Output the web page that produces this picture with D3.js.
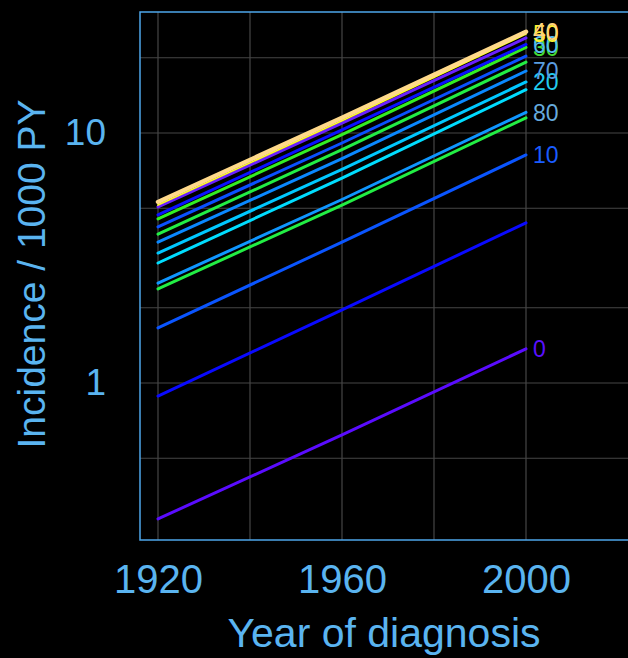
<!DOCTYPE html>
<html>
<head>
<meta charset="utf-8">
<script src="https://cdn.jsdelivr.net/npm/d3@7/dist/d3.min.js"></script>
<style>
  html, body { margin: 0; padding: 0; background: #000; }
  svg { display: block; }
  text { font-family: "Liberation Sans", Arial, sans-serif; }
</style>
</head>
<body>
<div id="chart"></div>
<script>
// Incidence per 1000 person-years by year of diagnosis, one line per age group
const years = [1920, 1960, 2000];

const seriesNames = ["0", "5", "10", "85", "80", "15", "20", "70", "75", "65", "30", "60", "45", "50", "40"];
const seriesLabels = ["0", "", "10", "", "80", "", "20", "70", "", "", "30", "60", "", "50", "40"];
const seriesValues = [
  [0.286, 0.620, 1.37],
  [0.887, 1.96, 4.37],
  [1.66, 3.66, 8.17],
  [2.38, 5.15, 11.5],
  [2.51, 5.42, 12.1],
  [3.02, 6.60, 14.9],
  [3.31, 7.15, 16.0],
  [3.66, 7.90, 17.7],
  [3.94, 8.58, 19.2],
  [4.21, 9.12, 20.3],
  [4.53, 9.85, 22.0],
  [4.70, 10.3, 22.6],
  [5.06, 10.95, 24.0],
  [5.15, 11.2, 24.9],
  [5.30, 11.5, 25.4]
];
const lineColors = ["#5a0cff", "#0a0aff", "#0a55ff", "#22ee44", "#0f96ff", "#00ddff",
                    "#00c8ff", "#0a88ff", "#22ee44", "#0a50ff", "#33ee22", "#0a10ff",
                    "#6a20ff", "#ffff22", "#ffd98a"];
const labelColors = ["#5a10ff", "#1a5cff", "#1a5cff", "#66aadd", "#66aadd", "#22ccee",
                     "#22ccee", "#5a9de0", "#5a9de0", "#55bbee", "#44dd33", "#55bbee",
                     "#ffee33", "#ffee33", "#ffd27f"];

const xTicks = [1920, 1960, 2000];
const xGrid = [1920, 1940, 1960, 1980, 2000];
const yTicks = [1, 10];
const yGrid = [0.5, 1, 2, 5, 10, 20];

const W = 628, H = 658;
const frame = { left: 140, top: 12, right: 660, bottom: 540 };
const axisColor = "#4ea6ea";
const textColor = "#5ab4f0";

const svg = d3.select("#chart").append("svg")
  .attr("width", W).attr("height", H);

svg.append("rect").attr("width", W).attr("height", H).attr("fill", "#000");

const x = d3.scaleLinear().domain([1920, 2000]).range([158, 526]);
const y = d3.scaleLog().domain([1, 10]).range([383, 133]);

// grid lines
const grid = svg.append("g");
grid.selectAll("line.vx").data(xGrid).join("line")
  .attr("x1", d => x(d)).attr("x2", d => x(d))
  .attr("y1", frame.top).attr("y2", frame.bottom)
  .attr("stroke", "#464646").attr("stroke-width", 1.2);
grid.selectAll("line.hy").data(yGrid).join("line")
  .attr("y1", d => y(d)).attr("y2", d => y(d))
  .attr("x1", frame.left).attr("x2", frame.right)
  .attr("stroke", "#464646").attr("stroke-width", 1.2);

// frame
svg.append("rect")
  .attr("x", frame.left).attr("y", frame.top)
  .attr("width", frame.right - frame.left).attr("height", frame.bottom - frame.top)
  .attr("fill", "none").attr("stroke", axisColor).attr("stroke-width", 1.5);

// axes (labels only)
const xAxis = svg.append("g")
  .attr("transform", `translate(0,${frame.bottom})`)
  .call(d3.axisBottom(x).tickValues(xTicks).tickSize(0).tickPadding(25).tickFormat(d3.format("d")));
xAxis.select(".domain").remove();
xAxis.selectAll("text").attr("fill", textColor).attr("font-size", 40)
  .attr("font-family", "'Liberation Sans', Arial, sans-serif");

const yAxis = svg.append("g")
  .attr("transform", `translate(${frame.left},0)`)
  .call(d3.axisLeft(y).tickValues(yTicks).tickSize(0).tickPadding(34).tickFormat(d3.format("d")));
yAxis.select(".domain").remove();
yAxis.selectAll("text").attr("fill", textColor).attr("font-size", 37)
  .attr("font-family", "'Liberation Sans', Arial, sans-serif");

// axis titles
svg.append("text")
  .attr("x", 384).attr("y", 647)
  .attr("text-anchor", "middle")
  .attr("fill", textColor).attr("font-size", 41)
  .text("Year of diagnosis");

svg.append("text")
  .attr("transform", "translate(45,274) rotate(-90)")
  .attr("text-anchor", "middle")
  .attr("fill", textColor).attr("font-size", 39)
  .text("Incidence / 1000 PY");

// series lines
const series = seriesNames.map((name, i) => ({
  name,
  label: seriesLabels[i],
  lineColor: lineColors[i],
  labelColor: labelColors[i],
  points: years.map((yr, j) => ({ year: yr, value: seriesValues[i][j] }))
}));

const line = d3.line().x(d => x(d.year)).y(d => y(d.value));

svg.append("g").selectAll("path").data(series).join("path")
  .attr("d", d => line(d.points))
  .attr("fill", "none")
  .attr("stroke", d => d.lineColor)
  .attr("stroke-width", d => d.name === "40" ? 4.5 : (d.name === "50" ? 1.8 : 3))
  .attr("stroke-linecap", "round");

// end labels
svg.append("g").selectAll("text").data(series.filter(d => d.label)).join("text")
  .attr("x", d => x(d.points[d.points.length - 1].year) + 7)
  .attr("y", d => y(d.points[d.points.length - 1].value))
  .attr("dy", "0.36em")
  .attr("fill", d => d.labelColor)
  .attr("font-size", 23)
  .text(d => d.label);
</script>
</body>
</html>
